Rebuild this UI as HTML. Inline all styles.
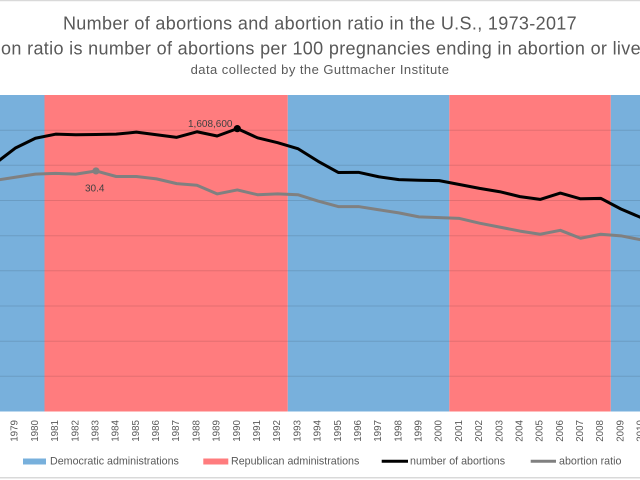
<!DOCTYPE html>
<html><head><meta charset="utf-8"><style>
html,body{margin:0;padding:0;background:#fff;}
svg{display:block;font-family:"Liberation Sans",Arial,sans-serif;}
</style></head><body>
<svg width="640" height="480" viewBox="0 0 640 480" xmlns="http://www.w3.org/2000/svg">
<rect x="0" y="0" width="640" height="480" fill="#fff"/>
<line x1="0" y1="0.5" x2="640" y2="0.5" stroke="#d9d9d9" stroke-width="1.5"/>
<line x1="0" y1="477.7" x2="640" y2="477.7" stroke="#d9d9d9" stroke-width="1.5"/>

<text x="320" y="29.3" font-size="18" letter-spacing="0.34" text-anchor="middle" fill="#595959">Number of abortions and abortion ratio in the U.S., 1973-2017</text>
<text x="-48" y="54.3" font-size="18" letter-spacing="0.34" fill="#595959">Abortion ratio is number of abortions per 100 pregnancies ending in abortion or live births</text>
<text x="320" y="74" font-size="13" letter-spacing="0.45" text-anchor="middle" fill="#595959">data collected by the Guttmacher Institute</text>

<g>
<rect x="0" y="95" width="44.5" height="316.5" fill="#78b0dc"/>
<rect x="44.5" y="95" width="243.3" height="316.5" fill="#ff7c7e"/>
<rect x="287.8" y="95" width="161.5" height="316.5" fill="#78b0dc"/>
<rect x="449.3" y="95" width="161.5" height="316.5" fill="#ff7c7e"/>
<rect x="610.8" y="95" width="29.2" height="316.5" fill="#78b0dc"/>
</g>
<g stroke="rgba(0,0,0,0.11)" stroke-width="1">
<line x1="0" y1="130.2" x2="640" y2="130.2"/>
<line x1="0" y1="165.3" x2="640" y2="165.3"/>
<line x1="0" y1="200.5" x2="640" y2="200.5"/>
<line x1="0" y1="235.7" x2="640" y2="235.7"/>
<line x1="0" y1="270.8" x2="640" y2="270.8"/>
<line x1="0" y1="306" x2="640" y2="306"/>
<line x1="0" y1="341.2" x2="640" y2="341.2"/>
<line x1="0" y1="376.3" x2="640" y2="376.3"/>
</g>

<polyline fill="none" stroke="#808080" stroke-width="3" stroke-linejoin="round" points="-5,180.45 15.21,177.29 35.4,174.12 55.59,173.33 75.78,174.12 95.97,170.96 116.16,176.5 136.35,176.5 156.54,178.87 176.73,183.62 196.92,185.2 217.11,193.91 237.3,189.95 257.49,194.7 277.68,193.91 297.87,194.7 318.06,201.03 338.25,206.57 358.44,206.57 378.63,209.73 398.82,212.9 419.01,216.85 439.2,217.64 459.39,218.43 479.58,223.18 499.77,227.14 519.96,231.09 540.15,234.26 560.34,230.3 580.53,238.22 600.72,234.26 620.91,235.84 641.1,239.8 661.29,243.75"/>
<polyline fill="none" stroke="#000" stroke-width="3" stroke-linejoin="round" points="-5,163.65 15.21,148.15 35.4,138.27 55.59,134.16 75.78,134.76 95.97,134.56 116.16,134.18 136.35,132.17 156.54,134.74 176.73,137.36 196.92,131.78 217.11,135.99 237.3,128.65 257.49,137.81 277.68,142.67 297.87,148.63 318.06,161.29 338.25,172.47 358.44,172.33 378.63,176.76 398.82,179.58 419.01,180.31 439.2,180.63 459.39,184.5 479.58,188.37 499.77,191.71 519.96,196.61 540.15,199.41 560.34,193.08 580.53,198.81 600.72,198.32 620.91,209.01 641.1,217.61 661.29,225.38"/>
<circle cx="237.3" cy="128.65" r="3.6" fill="#000"/>
<circle cx="95.97" cy="170.96" r="3.6" fill="#808080"/>
<text x="188" y="127" font-size="10" fill="#404040">1,608,600</text>
<text x="85" y="191.7" font-size="10" fill="#404040">30.4</text>

<g font-size="9.8" fill="#595959" text-anchor="end">
<text transform="translate(17.7,420) rotate(-90)">1979</text>
<text transform="translate(37.9,420) rotate(-90)">1980</text>
<text transform="translate(58.1,420) rotate(-90)">1981</text>
<text transform="translate(78.3,420) rotate(-90)">1982</text>
<text transform="translate(98.5,420) rotate(-90)">1983</text>
<text transform="translate(118.7,420) rotate(-90)">1984</text>
<text transform="translate(138.9,420) rotate(-90)">1985</text>
<text transform="translate(159.0,420) rotate(-90)">1986</text>
<text transform="translate(179.2,420) rotate(-90)">1987</text>
<text transform="translate(199.4,420) rotate(-90)">1988</text>
<text transform="translate(219.6,420) rotate(-90)">1989</text>
<text transform="translate(239.8,420) rotate(-90)">1990</text>
<text transform="translate(260.0,420) rotate(-90)">1991</text>
<text transform="translate(280.2,420) rotate(-90)">1992</text>
<text transform="translate(300.4,420) rotate(-90)">1993</text>
<text transform="translate(320.6,420) rotate(-90)">1994</text>
<text transform="translate(340.8,420) rotate(-90)">1995</text>
<text transform="translate(360.9,420) rotate(-90)">1996</text>
<text transform="translate(381.1,420) rotate(-90)">1997</text>
<text transform="translate(401.3,420) rotate(-90)">1998</text>
<text transform="translate(421.5,420) rotate(-90)">1999</text>
<text transform="translate(441.7,420) rotate(-90)">2000</text>
<text transform="translate(461.9,420) rotate(-90)">2001</text>
<text transform="translate(482.1,420) rotate(-90)">2002</text>
<text transform="translate(502.3,420) rotate(-90)">2003</text>
<text transform="translate(522.5,420) rotate(-90)">2004</text>
<text transform="translate(542.6,420) rotate(-90)">2005</text>
<text transform="translate(562.8,420) rotate(-90)">2006</text>
<text transform="translate(583.0,420) rotate(-90)">2007</text>
<text transform="translate(603.2,420) rotate(-90)">2008</text>
<text transform="translate(623.4,420) rotate(-90)">2009</text>
<text transform="translate(643.6,420) rotate(-90)">2010</text>
</g>

<g font-size="10.7" fill="#595959">
<rect x="23" y="458.5" width="23" height="6" fill="#78b0dc"/>
<text x="50" y="464.5">Democratic administrations</text>
<rect x="203.3" y="458.5" width="25" height="6" fill="#ff7c7e"/>
<text x="231" y="464.5">Republican administrations</text>
<line x1="381.7" y1="461.3" x2="408" y2="461.3" stroke="#000" stroke-width="3"/>
<text x="410" y="464.5">number of abortions</text>
<line x1="530.7" y1="461.3" x2="556" y2="461.3" stroke="#808080" stroke-width="3"/>
<text x="559" y="464.5">abortion ratio</text>
</g>
</svg>
</body></html>
